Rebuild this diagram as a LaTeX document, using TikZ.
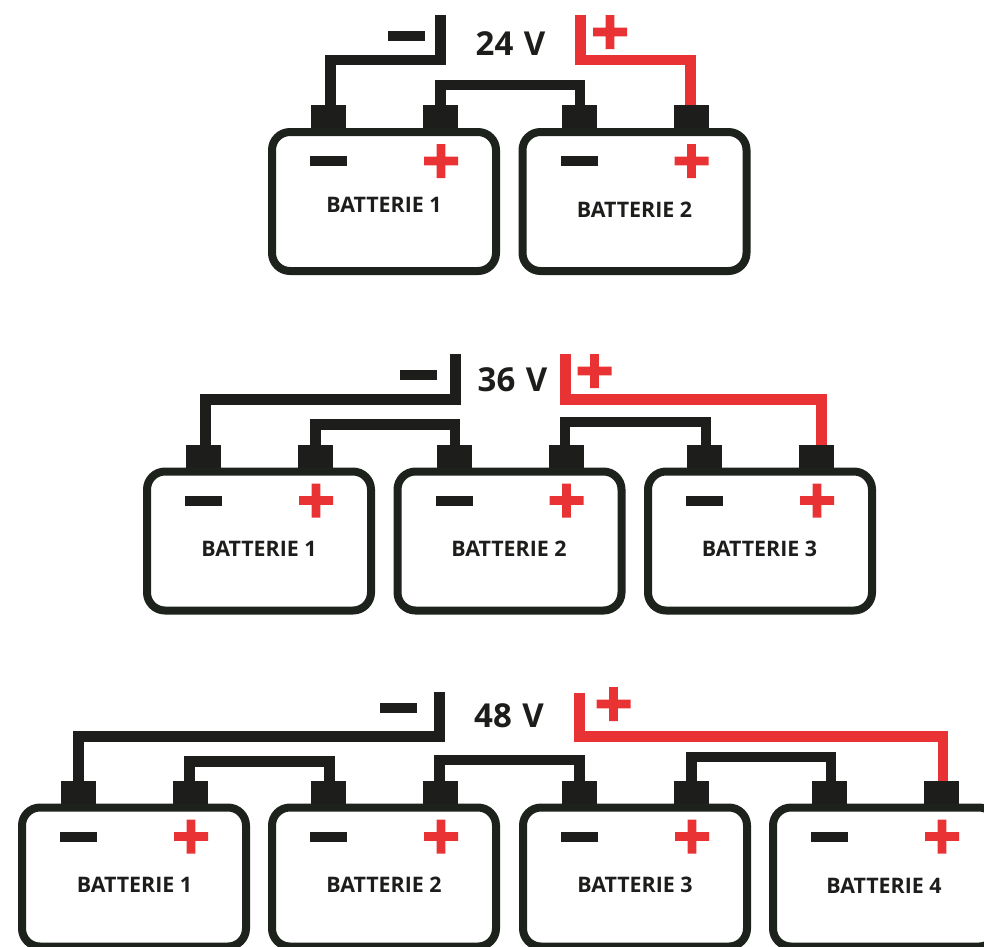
\documentclass[tikz,border=0pt]{standalone}
\usepackage{fontspec}
\setmainfont{Open Sans}
\usepackage{xcolor}
\definecolor{wireblack}{HTML}{1D1D1B}
\definecolor{caseblack}{HTML}{1D231C}
\definecolor{polered}{HTML}{E93234}
\usetikzlibrary{calc, positioning}

\begin{document}
\begin{tikzpicture}[x=1pt, y=-1pt,
      battery/.style = {draw=caseblack, line width=8pt, fill=white, rounded corners=18pt,
                        minimum width=224pt, minimum height=139pt, inner sep=0pt},
      terminal/.style = {fill=wireblack, minimum width=35pt, minimum height=23pt,
                        inner sep=0pt, outer sep=0pt, anchor=south},
      minusmark/.style = {fill=wireblack, minimum width=37pt, minimum height=10pt, inner sep=0pt},
      wire/.style = {draw=wireblack, line width=10.6pt},
      redwire/.style = {draw=polered, line width=10.6pt},
      batlabel/.style = {text=wireblack, font=\bfseries\fontsize{21.4}{24}\selectfont, anchor=base, inner sep=0pt},
      voltage/.style = {text=wireblack, font=\bfseries\fontsize{33}{36}\selectfont, anchor=base, inner sep=0pt},
      plusmark/.pic = {\fill[polered] (-17,-4.4) rectangle (17,4.4) (-4.4,-17) rectangle (4.4,17);} ]

   \clip[use as bounding box] (0,0) rectangle (984,946);

   % batteries: name / x / y / number / label x / label baseline
   \foreach \name/\x/\y/\num/\lx/\ly in {
        A1/384/201.5/1/384/212,       A2/634.5/201.5/2/634.5/217,
        B1/259/541/1/259/556,         B2/509.5/541/2/509/556,      B3/760/541/3/759.5/556,
        C1/134/877/1/134.5/892,       C2/384/877/2/384/892,
        C3/635/877/3/635/892,         C4/885/877/4/884/893}
   {
      \node (\name) [battery] at (\x,\y) {};
      \node (\name m) [terminal] at ($(\name.north)+(-55.5,0)$) {};
      \node (\name p) [terminal] at ($(\name.north)+(56.5,0)$) {};
      \node (\name neg) [minusmark] at ($(\name.center)+(-55.5,-40.5)$) {};
      \path ($(\name.center)+(57,-40.5)$) pic {plusmark};
      \node (\name t) [batlabel] at (\lx,\ly) {BATTERIE \num};
   }

   % 24 V
   \coordinate (negA) at (440.5,15);
   \coordinate (posA) at (580.5,15);
   \node (voltA) [voltage] at (510.5,55) {24\kern2pt\ V};
   \node (minusA) [minusmark] at (406.5,36) {};
   \path (610,32) pic {plusmark};
   \draw[wire] (negA) -- ++(0,45) -| ([xshift=2pt]A1m.north);
   \draw[wire] (A1p.north) -- ++(0,-20) -| ([xshift=1pt]A2m.north);
   \draw[redwire] (posA) -- ++(0,45) -| ([xshift=-0.5pt]A2p.north);

   % 36 V
   \coordinate (negB) at (455.5,354);
   \coordinate (posB) at (565.5,354);
   \node (voltB) [voltage] at (512.5,391) {36\kern2pt\ V};
   \node (minusB) [minusmark] at (418.5,375) {};
   \path (594.5,371) pic {plusmark};
   \draw[wire] (negB) -- ++(0,45.5) -| ([xshift=2pt]B1m.north);
   \draw[wire] (B1p.north) -- ++(0,-20) -| ([xshift=1pt]B2m.north);
   \draw[wire] ([xshift=-1pt]B2p.north) -- ++(0,-22.5) -| ([xshift=1.5pt]B3m.north);
   \draw[redwire] (posB) -- ++(0,45.5) -| ([xshift=5pt]B3p.north);

   % 48 V
   \coordinate (negC) at (439.5,692);
   \coordinate (posC) at (579.5,693);
   \node (voltC) [voltage] at (509,727) {48\kern2pt\ V};
   \node (minusC) [minusmark] at (398.5,708) {};
   \path (613.5,704) pic {plusmark};
   \draw[wire] (negC) -- ++(0,44.5) -| (C1m.north);
   \draw[wire] ([xshift=-1pt]C1p.north) -- ++(0,-19) -| ([xshift=1pt]C2m.north);
   \draw[wire] ([xshift=-1pt]C2p.north) -- ++(0,-20.5) -| (C3m.north);
   \draw[wire] (C3p.north) -- ++(0,-23.5) -| ([xshift=1.5pt]C4m.north);
   \draw[redwire] (posC) -- ++(0,43.5) -| ([xshift=1.5pt]C4p.north);
\end{tikzpicture}
\end{document}
